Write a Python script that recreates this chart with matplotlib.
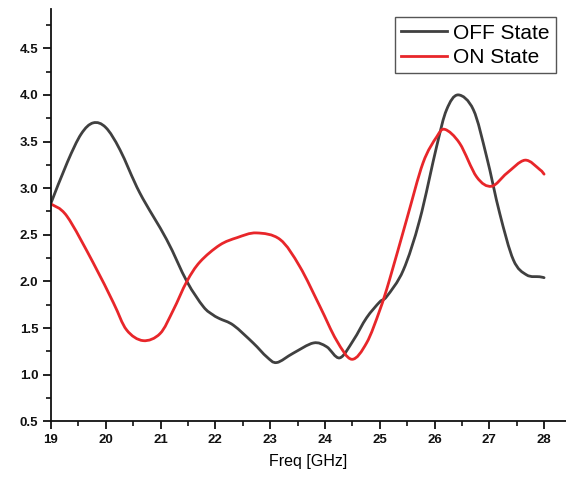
import matplotlib
matplotlib.use("Agg")
import matplotlib.pyplot as plt
from matplotlib.ticker import MultipleLocator
from matplotlib.path import Path
from matplotlib.patches import PathPatch
from matplotlib.lines import Line2D

plt.rcParams['font.family'] = ['Liberation Sans', 'DejaVu Sans']

off_f = [19.0, 19.3, 19.55, 19.77, 20.0, 20.26, 20.62, 21.11, 21.48, 21.78, 21.96, 22.08,
         22.33, 22.69, 22.94, 23.12, 23.42, 23.79, 24.03, 24.27, 24.52, 24.76, 25.0, 25.13,
         25.43, 25.73, 26.04, 26.22, 26.43, 26.71, 26.95, 27.19, 27.44, 27.68, 27.92, 28.0]
off_v = [2.84, 3.28, 3.58, 3.70, 3.65, 3.41, 2.95, 2.45, 2.0, 1.73, 1.64, 1.60,
         1.53, 1.34, 1.19, 1.13, 1.23, 1.34, 1.30, 1.18, 1.37, 1.61, 1.78, 1.84,
         2.12, 2.66, 3.45, 3.84, 4.0, 3.84, 3.34, 2.73, 2.23, 2.07, 2.05, 2.04]

on_f = [19.0, 19.29, 19.77, 20.14, 20.38, 20.68, 20.99, 21.23, 21.48, 21.72, 22.08, 22.4,
        22.75, 23.18, 23.54, 23.91, 24.21, 24.49, 24.76, 25.0, 25.18, 25.49, 25.79, 26.04,
        26.19, 26.46, 26.77, 27.04, 27.32, 27.65, 27.92, 28.0]
on_v = [2.83, 2.70, 2.20, 1.77, 1.48, 1.365, 1.44, 1.69, 2.0, 2.21, 2.39, 2.47,
        2.52, 2.45, 2.16, 1.73, 1.37, 1.165, 1.34, 1.69, 2.02, 2.66, 3.27, 3.55,
        3.63, 3.48, 3.12, 3.02, 3.16, 3.30, 3.20, 3.15]

series_names = ['OFF State', 'ON State']
series_colors = ['#404040', '#e8262a']

x_ticks = [19, 20, 21, 22, 23, 24, 25, 26, 27, 28]
y_ticks = [0.5, 1.0, 1.5, 2.0, 2.5, 3.0, 3.5, 4.0, 4.5]


def smooth_path(xs, ys):
    """Catmull-Rom curve through the read points, drawn as cubic Bezier segments."""
    pts = list(zip(xs, ys))
    n = len(pts)
    verts = [pts[0]]
    codes = [Path.MOVETO]
    for i in range(n - 1):
        p0 = pts[i - 1] if i > 0 else pts[i]
        p1 = pts[i]
        p2 = pts[i + 1]
        p3 = pts[i + 2] if i + 2 < n else pts[i + 1]
        c1 = (p1[0] + (p2[0] - p0[0]) / 6.0, p1[1] + (p2[1] - p0[1]) / 6.0)
        c2 = (p2[0] - (p3[0] - p1[0]) / 6.0, p2[1] - (p3[1] - p1[1]) / 6.0)
        verts += [c1, c2, p2]
        codes += [Path.CURVE4] * 3
    return Path(verts, codes)


fig = plt.figure(figsize=(5.66, 4.78), dpi=100)
ax = fig.add_axes([0.0901, 0.1186, 0.9099, 0.8624])

handles = []
for xs, ys, name, col in [(off_f, off_v, series_names[0], series_colors[0]),
                          (on_f, on_v, series_names[1], series_colors[1])]:
    patch = PathPatch(smooth_path(xs, ys), facecolor='none', edgecolor=col, lw=2.0,
                      capstyle='round', joinstyle='round')
    ax.add_patch(patch)
    handles.append(Line2D([], [], color=col, lw=2.0, label=name))

ax.set_xlim(19, 28.4)
ax.set_ylim(0.5, 4.92)
ax.set_xticks(x_ticks)
ax.set_yticks(y_ticks)
ax.set_yticklabels([f"{t:.1f}" for t in y_ticks])
ax.xaxis.set_minor_locator(MultipleLocator(0.5))
ax.yaxis.set_minor_locator(MultipleLocator(0.25))

for s in ['top', 'right']:
    ax.spines[s].set_visible(False)
for s in ['left', 'bottom']:
    ax.spines[s].set_linewidth(1.3)
    ax.spines[s].set_color('#111111')

ax.tick_params(axis='both', which='major', direction='out', length=6, width=1.3,
               labelsize=9.5, colors='#111111', pad=3)
ax.tick_params(axis='both', which='minor', direction='out', length=3.5, width=1.2,
               colors='#111111')
for lab in ax.get_xticklabels() + ax.get_yticklabels():
    lab.set_fontweight('bold')

ax.set_xlabel('Freq [GHz]', fontsize=11.5, labelpad=6)

leg = ax.legend(handles=handles, loc='upper right', bbox_to_anchor=(0.988, 0.99),
                fontsize=15, frameon=True, fancybox=False, edgecolor='#555555',
                framealpha=1, handlelength=2.2, handletextpad=0.3, borderpad=0.3,
                labelspacing=0.25, borderaxespad=0.2)
leg.get_frame().set_linewidth(1.0)

fig.savefig('out.png', dpi=100)
